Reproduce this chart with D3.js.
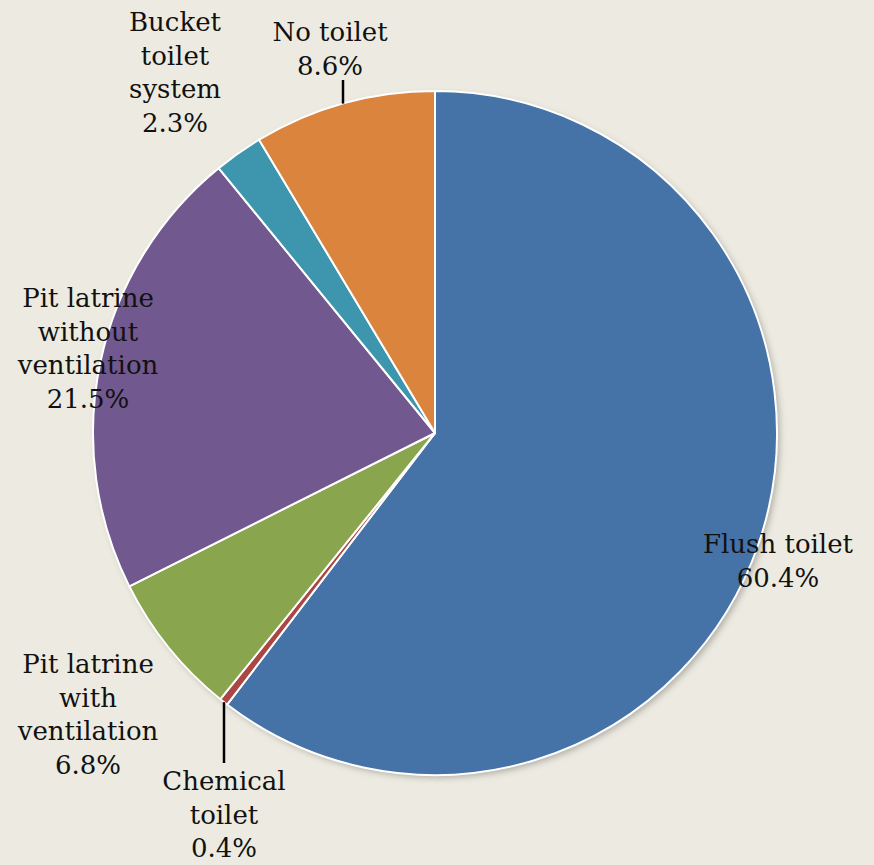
<!DOCTYPE html>
<html>
<head>
<meta charset="utf-8">
<script src="https://cdn.jsdelivr.net/npm/d3@7/dist/d3.min.js"></script>
<style>
  html, body { margin: 0; padding: 0; background: #EDEBE1; }
  svg { display: block; }
  text { font-family: Georgia, "DejaVu Serif", serif; fill: #111; }
</style>
</head>
<body>
<svg id="chart" width="874" height="865"></svg>
<script>
// Sanitation categories, clockwise from 12 o'clock
const categories = ["Flush toilet", "Chemical toilet", "Pit latrine with ventilation",
                    "Pit latrine without ventilation", "Bucket toilet system", "No toilet"];
const shares = [60.4, 0.4, 6.8, 21.5, 2.3, 8.6];
// Wrapped label lines for each category
const labelLines = [
  ["Flush toilet"],
  ["Chemical", "toilet"],
  ["Pit latrine", "with", "ventilation"],
  ["Pit latrine", "without", "ventilation"],
  ["Bucket", "toilet", "system"],
  ["No toilet"]
];
const colors = ["#4572A7", "#AA4643", "#89A54E", "#71588F", "#3D96AE", "#DB843D"];

const width = 874, height = 865;
const cx = 435, cy = 433, radius = 342;
const fontSize = 26, lineH = 33.5;

// Label block placement (centre x, first-line y) and optional vertical leader
const labelLayout = [
  { x: 778, y: 544 },
  { x: 224, y: 781, leaderX: 224, leaderEnd: 763 },
  { x: 88,  y: 664 },
  { x: 88,  y: 298 },
  { x: 175, y: 22 },
  { x: 330, y: 32, leaderX: 343, leaderEnd: 80 }
];

const svg = d3.select("#chart");

const defs = svg.append("defs");
const shadow = defs.append("filter").attr("id", "shadow")
  .attr("x", "-10%").attr("y", "-10%").attr("width", "120%").attr("height", "120%");
shadow.append("feDropShadow").attr("dx", 3).attr("dy", 3).attr("stdDeviation", 3)
  .attr("flood-color", "#000").attr("flood-opacity", 0.25);

const pie = d3.pie().sort(null).value(d => d)(shares);
const arc = d3.arc().innerRadius(0).outerRadius(radius);

const g = svg.append("g").attr("transform", `translate(${cx},${cy})`);

g.append("circle").attr("r", radius).attr("fill", "#fff").attr("filter", "url(#shadow)");

g.selectAll("path.slice").data(pie).join("path")
  .attr("class", "slice")
  .attr("d", arc)
  .attr("fill", (d, i) => colors[i])
  .attr("stroke", "#fff")
  .attr("stroke-width", 2)
  .attr("stroke-linejoin", "round");

// Labels
categories.forEach((c, i) => {
  const L = labelLayout[i];
  const lines = labelLines[i].concat([d3.format(".1f")(shares[i]) + "%"]);
  const t = svg.append("text").attr("text-anchor", "middle").attr("font-size", fontSize);
  lines.forEach((ln, k) => {
    t.append("tspan").attr("x", L.x).attr("y", L.y + k * lineH).attr("dy", "0.35em").text(ln);
  });
  if (L.leaderX !== undefined) {
    // vertical leader from the slice edge to the label block
    const dx = L.leaderX - cx;
    const dy = Math.sqrt(radius * radius - dx * dx);
    const edgeY = L.leaderEnd > cy ? cy + dy : cy - dy;
    svg.append("line")
      .attr("x1", L.leaderX).attr("x2", L.leaderX)
      .attr("y1", edgeY).attr("y2", L.leaderEnd)
      .attr("stroke", "#000").attr("stroke-width", 2.5);
  }
});
</script>
</body>
</html>
